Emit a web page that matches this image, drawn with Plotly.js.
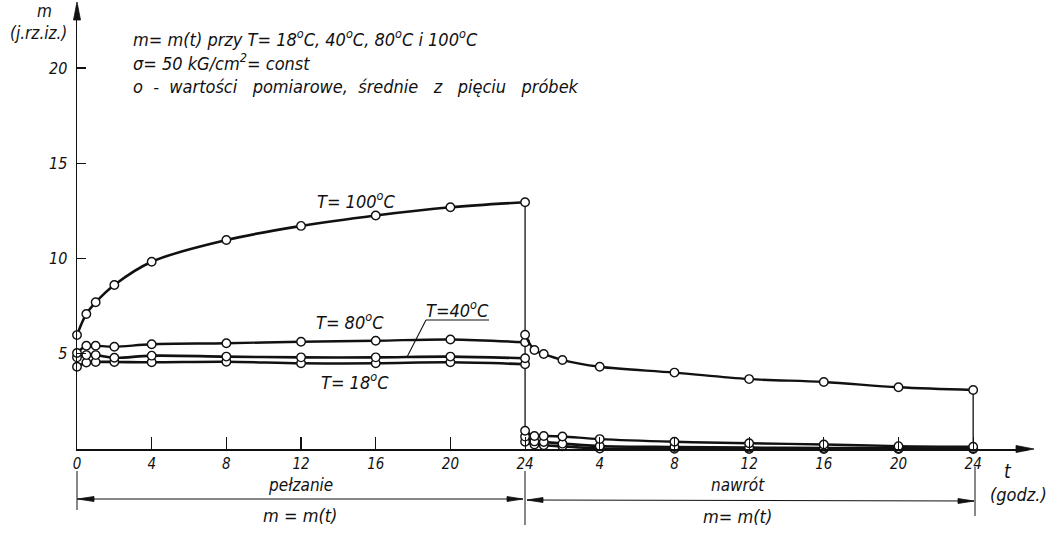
<!DOCTYPE html>
<html>
<head>
<meta charset="utf-8">
<script src="https://cdn.plot.ly/plotly-3.0.1.min.js"></script>
<style>html,body{margin:0;padding:0;background:#fff;}#chart{width:1050px;height:537px;}</style>
</head>
<body>
<div id="chart"></div>
<script>
// ---- data ----
const tCreep = [0, 0.5, 1, 2, 4, 8, 12, 16, 20, 24];      // hours, creep (pełzanie)
const tRecov = [0, 0.5, 1, 2, 4, 8, 12, 16, 20, 24];      // hours, recovery (nawrót)
const creepLength = 24;

const m100Creep = [5.98, 7.09, 7.70, 8.61, 9.83, 10.97, 11.71, 12.26, 12.69, 12.95];
const m80Creep  = [5.04, 5.42, 5.42, 5.37, 5.50, 5.55, 5.63, 5.68, 5.75, 5.60];
const m40Creep  = [4.81, 4.93, 4.93, 4.79, 4.90, 4.85, 4.81, 4.81, 4.85, 4.76];
const m18Creep  = [4.32, 4.54, 4.57, 4.57, 4.55, 4.58, 4.50, 4.50, 4.55, 4.45];

const m100Recov = [6.00, 5.20, 4.99, 4.67, 4.32, 4.01, 3.67, 3.52, 3.24, 3.10];
const m80Recov  = [0.96, 0.68, 0.68, 0.66, 0.52, 0.38, 0.30, 0.24, 0.15, 0.12];
const m40Recov  = [0.65, 0.40, 0.37, 0.28, 0.16, 0.10, 0.07, 0.05, 0.04, 0.03];
const m18Recov  = [0.38, 0.24, 0.20, 0.14, 0.03, 0.01, 0.00, 0.00, 0.00, 0.00];

const xTickVals = [0, 4, 8, 12, 16, 20, 24, 28, 32, 36, 40, 44, 48];
const xTickText = ['0', '4', '8', '12', '16', '20', '24', '4', '8', '12', '16', '20', '24'];
const yTickVals = [5, 10, 15, 20];
const yTickText = ['5', '10', '15', '20'];

// ---- layout geometry ----
const W = 1050, H = 537;
const M = {l: 77, r: 23, t: 5, b: 88};
const PW = W - M.l - M.r, PH = H - M.t - M.b;
const px = x => (x - M.l) / PW;          // pixel -> paper
const py = y => (H - M.b - y) / PH;

const FONT = 'DejaVu Sans Condensed, Liberation Sans Narrow, sans-serif';
const ink = '#111';
const xRec = tRecov.map(t => creepLength + t);

function curve(x, y, width, shape) {
  return {
    x: x, y: y, type: 'scatter', mode: 'lines+markers', cliponaxis: false,
    line: {color: ink, width: width, shape: shape || 'linear', smoothing: 1},
    marker: {symbol: 'circle', size: 8.5, color: '#fff', line: {color: ink, width: 1.4}},
    hoverinfo: 'x+y', showlegend: false
  };
}
function thin(x, y) {
  return {x: x, y: y, type: 'scatter', mode: 'lines', cliponaxis: false,
          line: {color: ink, width: 1.3}, hoverinfo: 'skip', showlegend: false};
}

const traces = [
  thin([creepLength, creepLength], [m100Creep[m100Creep.length - 1], m80Recov[0]]),
  thin([xRec[xRec.length - 1], xRec[xRec.length - 1]], [m100Recov[m100Recov.length - 1], m80Recov[m80Recov.length - 1]]),
  curve(tCreep, m18Creep, 2.6, 'spline'),
  curve(tCreep, m40Creep, 2.6, 'spline'),
  curve(tCreep, m80Creep, 2.4, 'spline'),
  curve(tCreep, m100Creep, 2.6, 'spline'),
  curve(xRec, m18Recov, 2.6, 'spline'),
  curve(xRec, m40Recov, 2.6, 'spline'),
  curve(xRec, m80Recov, 2.4, 'spline'),
  curve(xRec, m100Recov, 2.4, 'spline')
];

function txt(text, x, y, size, anchor) {
  return {text: text, x: px(x), y: py(y), xref: 'paper', yref: 'paper',
          xanchor: anchor || 'center', yanchor: 'middle', showarrow: false, borderpad: 0,
          font: {family: FONT, size: size || 18, color: ink, style: 'italic'}};
}
function line(x0, y0, x1, y1, w) {
  return {type: 'line', xref: 'paper', yref: 'paper', x0: px(x0), y0: py(y0), x1: px(x1), y1: py(y1),
          line: {color: ink, width: w || 1.1}};
}
function tri(pts) {
  const d = 'M ' + pts.map(p => px(p[0]) + ' ' + py(p[1])).join(' L ') + ' Z';
  return {type: 'path', xref: 'paper', yref: 'paper', path: d,
          fillcolor: ink, line: {color: ink, width: 0.8}};
}

const annotations = [
  txt('m', 44, 11, 17),
  txt('(j.rz.iz.)', 38, 33, 17),
  txt('m= m(t) przy T= 18<sup>o</sup>C, 40<sup>o</sup>C, 80<sup>o</sup>C i 100<sup>o</sup>C', 132, 38, 18, 'left'),
  txt('σ= 50 kG/cm<sup>2</sup>= const', 132, 62, 18, 'left'),
  txt('o  -  wartości   pomiarowe,  średnie   z   pięciu   próbek', 132, 86, 18, 'left'),
  txt('T= 100<sup>o</sup>C', 356, 200, 18),
  txt('T= 80<sup>o</sup>C', 350, 321, 18),
  txt('T=40<sup>o</sup>C', 457, 309, 18),
  txt('T= 18<sup>o</sup>C', 355, 381, 18),
  txt('t', 1008, 471, 19),
  txt('(godz.)', 1018, 494, 18),
  txt('pełzanie', 300, 485, 17),
  txt('m = m(t)', 300, 515, 18),
  txt('nawrót', 738, 485, 17),
  txt('m= m(t)', 737, 516, 18)
];

const shapes = [
  // axis arrowheads
  tri([[77, 2], [73.5, 20], [80.5, 20]]),
  tri([[1034, 449], [1016, 445.5], [1016, 452.5]]),
  // T=40 label underline and leader
  line(426, 320, 489, 320, 1.1),
  line(426, 320, 407, 357, 1.1),
  // dimension lines
  line(77, 471, 77, 510, 1.0),
  line(525, 471, 525, 525, 1.0),
  line(975, 467, 975, 516, 1.0),
  line(77, 499, 523, 499, 1.1),
  tri([[77.5, 499], [94, 496.5], [94, 501.5]]),
  tri([[523, 499], [507, 496.5], [507, 501.5]]),
  line(527, 500, 974, 501, 1.1),
  tri([[527, 500], [543, 497.5], [543, 502.5]]),
  tri([[974, 501], [958, 498.5], [958, 503.5]])
];

const layout = {
  width: W, height: H, margin: M,
  paper_bgcolor: '#fff', plot_bgcolor: '#fff',
  showlegend: false,
  font: {family: FONT, size: 16, color: ink},
  xaxis: {
    range: [0, PW / 18.67], showgrid: false, zeroline: false,
    showline: true, linecolor: ink, linewidth: 1.5,
    ticks: 'inside', ticklen: 12, tickwidth: 1.1, tickcolor: ink,
    tickmode: 'array', tickvals: xTickVals, ticktext: xTickText,
    tickfont: {family: FONT, size: 15, color: ink, style: 'italic'},
    ticklabelstandoff: 0,
    fixedrange: true
  },
  yaxis: {
    range: [0, PH / 19.05], showgrid: false, zeroline: false,
    showline: true, linecolor: ink, linewidth: 1.5,
    ticks: 'inside', ticklen: 9, tickwidth: 1.1, tickcolor: ink,
    tickmode: 'array', tickvals: yTickVals, ticktext: yTickText,
    tickfont: {family: FONT, size: 16, color: ink, style: 'italic'},
    ticklabelstandoff: 5,
    fixedrange: true
  },
  annotations: annotations,
  shapes: shapes
};

Plotly.newPlot('chart', traces, layout, {displayModeBar: false, staticPlot: true});
</script>
</body>
</html>
